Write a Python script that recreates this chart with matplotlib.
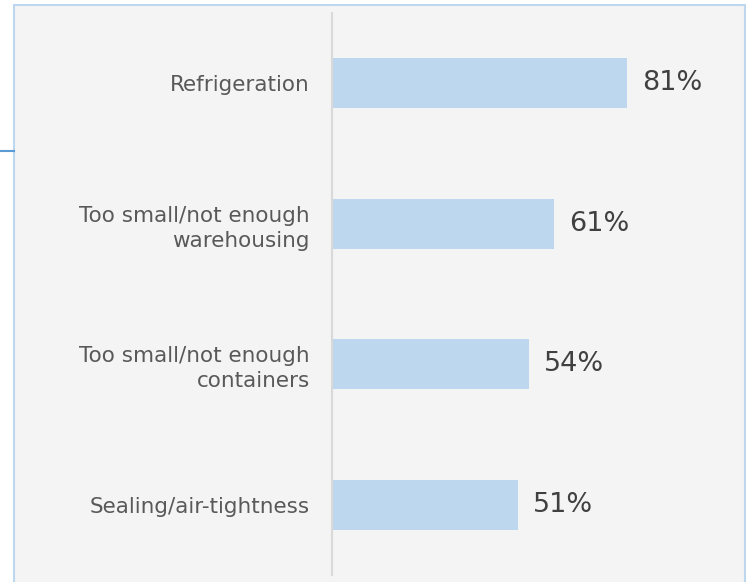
import matplotlib.pyplot as plt
from matplotlib.patches import Rectangle
from matplotlib.lines import Line2D

categories = [
    "Refrigeration",
    "Too small/not enough\nwarehousing",
    "Too small/not enough\ncontainers",
    "Sealing/air-tightness",
]
values = [81, 61, 54, 51]

W, H = 746, 582
fig = plt.figure(figsize=(W / 100, H / 100), dpi=100)
fig.patch.set_facecolor("white")

# outer panel with light blue border, drawn behind the axes
fig.patches.append(Rectangle((14 / W, -0.05), (731 / W), (H - 5) / H + 0.05,
                             transform=fig.transFigure, facecolor="#f4f4f4",
                             edgecolor="#bdd7ee", linewidth=1.5, zorder=-5))
fig.lines.append(Line2D([0, 14 / W], [1 - 151 / H, 1 - 151 / H], transform=fig.transFigure,
                        color="#5b9bd5", linewidth=1.5, zorder=-4))

ax = fig.add_axes([332 / W, 7 / H, 364 / W, 562 / H])
ax.set_facecolor("none")
ax.set_zorder(2)

ypos = list(range(len(categories)))
ax.barh(ypos, values, height=0.355, color="#bdd7ee", zorder=2)
ax.set_xlim(0, 100)
ax.set_ylim(len(categories) - 0.5, -0.5)

for y, v in zip(ypos, values):
    ax.annotate(f"{v}%", (v, y), xytext=(11, 0), textcoords="offset points",
                va="center", ha="left", fontsize=19.5, color="#404040",
                fontfamily="DejaVu Sans", annotation_clip=False)

ax.set_yticks(ypos)
ax.set_yticklabels(categories, fontsize=15.5, color="#595959", fontfamily="DejaVu Sans",
                   linespacing=1.3)
ax.tick_params(axis="y", length=0, pad=16)
ax.set_xticks([])
for side in ["top", "right", "bottom"]:
    ax.spines[side].set_visible(False)
ax.spines["left"].set_color("#d9d9d9")
ax.spines["left"].set_linewidth(1.5)

fig.savefig("out.png", dpi=100)
